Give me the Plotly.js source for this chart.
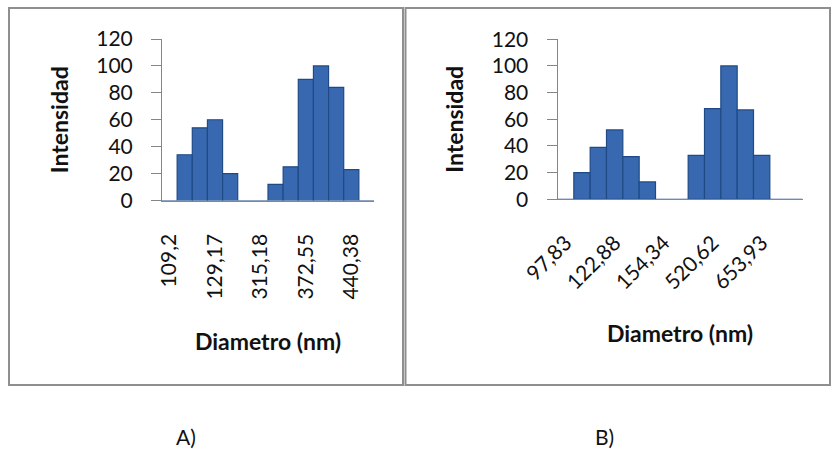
<!DOCTYPE html>
<html>
<head>
<meta charset="utf-8">
<script src="https://cdn.plot.ly/plotly-3.0.1.min.js"></script>
<style>html,body{margin:0;padding:0;background:#fff;}#chart{width:832px;height:449px;}</style>
</head>
<body>
<div id="chart"></div>
<script>
// ---- Data ----
// Chart A: 14 size bins, labelled every third bin
const binsA = [0,1,2,3,4,5,6,7,8,9,10,11,12,13];
const intensityA = [0, 34, 54, 60, 20, 0, 0, 12, 25, 90, 100, 84, 23, 0];
const tickBinsA = [0, 3, 6, 9, 12];
const tickLabelsA = ["109,2", "129,17", "315,18", "372,55", "440,38"];

// Chart B: 15 size bins, labelled every third bin
const binsB = [0,1,2,3,4,5,6,7,8,9,10,11,12,13,14];
const intensityB = [0, 20, 39, 52, 32, 13, 0, 0, 33, 68, 100, 67, 33, 0, 0];
const tickBinsB = [0, 3, 6, 9, 12];
const tickLabelsB = ["97,83", "122,88", "154,34", "520,62", "653,93"];

const yTitle = "Intensidad";
const xTitle = "Diametro (nm)";
const panelLabels = ["A)", "B)"];

// ---- Layout helpers ----
const W = 832, H = 449;
const px = v => v / W;
const py = v => 1 - v / H;

const FONT = "Lato, 'Open Sans', sans-serif";
const axisGrey = "#868686";
const barColor = "#3868af";
const barLine = "#1f4a86";

function yAxis(domain) {
  return {
    domain: domain, range: [0, 120], dtick: 20, tick0: 0,
    showgrid: false, zeroline: false,
    showline: true, linecolor: axisGrey, linewidth: 1,
    ticks: "outside", ticklen: 10, tickcolor: axisGrey, tickwidth: 1,
    ticklabelstandoff: 14,
    tickfont: {family: FONT, size: 21, color: "#111"},
    title: {text: yTitle, standoff: 21, font: {family: FONT, size: 23, color: "#111", weight: "bold"}},
    fixedrange: true
  };
}
function xAxis(domain, n, tv, tt, angle, standoffLbl, standoffTitle, anchor) {
  return {
    domain: domain, range: [-0.5, n - 0.5], anchor: anchor,
    tickmode: "array", tickvals: tv, ticktext: tt, tickangle: angle,
    showgrid: false, zeroline: false,
    showline: true, linecolor: axisGrey, linewidth: 1,
    ticks: "", ticklabelstandoff: standoffLbl,
    tickfont: {family: FONT, size: 21, color: "#111"},
    title: {text: xTitle, standoff: standoffTitle, font: {family: FONT, size: 23, color: "#111", weight: "bold"}},
    fixedrange: true
  };
}

const traces = [
  {type: "bar", x: binsA, y: intensityA, xaxis: "x", yaxis: "y",
   marker: {color: barColor, line: {color: barLine, width: 1.2}}, hoverinfo: "skip"},
  {type: "bar", x: binsB, y: intensityB, xaxis: "x2", yaxis: "y2",
   marker: {color: barColor, line: {color: barLine, width: 1.2}}, hoverinfo: "skip"}
];

const frame = {color: "#8f8f8f", width: 2};
const layout = {
  width: W, height: H,
  margin: {l: 0, r: 0, t: 0, b: 0},
  paper_bgcolor: "#fff", plot_bgcolor: "rgba(0,0,0,0)",
  showlegend: false, bargap: 0,
  font: {family: FONT},
  xaxis: xAxis([px(162), px(374)], binsA.length, tickBinsA, tickLabelsA, -90, 24, 35, "y"),
  yaxis: Object.assign(yAxis([py(200.5), py(39)]), {anchor: "x"}),
  xaxis2: xAxis([px(557.5), px(802.5)], binsB.length, tickBinsB, tickLabelsB, -45, 22, 33, "y2"),
  yaxis2: Object.assign(yAxis([py(199.3), py(39.3)]), {anchor: "x2"}),
  shapes: [
    {type: "rect", xref: "paper", yref: "paper", x0: px(9), x1: px(403), y0: py(385), y1: py(8), line: frame},
    {type: "rect", xref: "paper", yref: "paper", x0: px(405.5), x1: px(830), y0: py(385), y1: py(8), line: frame}
  ],
  annotations: [
    {xref: "paper", yref: "paper", x: px(186), y: py(436), text: panelLabels[0], showarrow: false,
     xanchor: "center", yanchor: "middle", font: {family: FONT, size: 21, color: "#111"}},
    {xref: "paper", yref: "paper", x: px(604), y: py(436), text: panelLabels[1], showarrow: false,
     xanchor: "center", yanchor: "middle", font: {family: FONT, size: 21, color: "#111"}}
  ]
};

Plotly.newPlot("chart", traces, layout, {displayModeBar: false, staticPlot: true});
</script>
</body>
</html>
